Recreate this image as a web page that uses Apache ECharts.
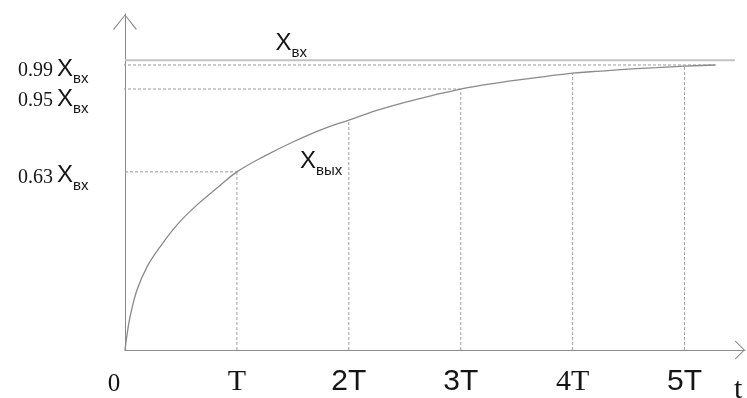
<!DOCTYPE html>
<html><head><meta charset="utf-8">
<script src="https://cdn.jsdelivr.net/npm/echarts@6/dist/echarts.min.js"></script>
<style>html,body{margin:0;padding:0;background:#fff}#c{width:747px;height:398px}</style>
</head><body><div id="c"></div>
<script>
// ---- data (t in units of T, values as fraction of X_вх) ----
const xTickValues = [0, 1, 2, 3, 4, 5];
const xTickLabels = ['0', 'T', '2T', '3T', '4T', '5T'];
const axisEndLabel = 't';
const curveT = [0, 0.018, 0.045, 0.107, 0.197, 0.313, 0.465, 0.643, 0.822, 1.0, 1.25, 1.5, 1.75, 2.0, 2.25, 2.5, 2.75, 3.0, 3.25, 3.5, 3.75, 4.0, 4.25, 4.5, 4.75, 5.0, 5.27];
const curveV = [0, 0.052, 0.114, 0.207, 0.287, 0.356, 0.432, 0.501, 0.559, 0.615, 0.670, 0.718, 0.760, 0.794, 0.827, 0.855, 0.879, 0.901, 0.918, 0.932, 0.944, 0.956, 0.963, 0.970, 0.975, 0.980, 0.984];
const inputLevel = 1.0;
const inputSpanT = [0, 5.45];
const levelNames = ['0.99', '0.95', '0.63'];
const levelValues = [0.984, 0.901, 0.615];
const levelStartT = [-0.107, -0.107, -0.134];
const levelEndT = [5.29, 3.0, 1.0];
const dropT = [1, 2, 3, 4, 5];
const dropV = [0.615, 0.794, 0.901, 0.956, 0.980];
const inputName = ['X', 'вх'];
const outputName = ['X', 'вых'];

// ---- styling ----
const TXT = '#151515';
const serifTicks = new Set(['0', 'T', '4T']);
const SERIF = 'Liberation Serif', SANS = 'Liberation Sans';
const subRich = {
  n: { fontFamily: SERIF, fontSize: 20, lineHeight: 20, padding: [0, 4, 5, 0], color: TXT, verticalAlign: 'bottom' },
  x: { fontFamily: SANS, fontSize: 24, lineHeight: 24, padding: [0, 0, 5, 0], color: TXT, verticalAlign: 'bottom' },
  s: { fontFamily: SANS, fontSize: 15, lineHeight: 15, color: TXT, verticalAlign: 'bottom' }
};
const levelOffsets = [[0, 9], [0, 15], [0, 9]];
const levelDistance = [24, 24, 21];

const chart = echarts.init(document.getElementById('c'), null, { renderer: 'canvas' });

const curveData = curveT.map((t, i) => ({ value: [t, curveV[i]] }));
const tIdx = curveT.indexOf(1.0);
curveData[tIdx].label = {
  show: true, position: [63.5, -17],
  formatter: '{x|' + outputName[0] + '}{s|' + outputName[1] + '}', rich: subRich
};

const series = [];
series.push({
  type: 'line', data: curveData, smooth: 0.4,
  symbol: 'circle', symbolSize: 1, showSymbol: true, itemStyle: { color: 'transparent' },
  lineStyle: { color: '#8a8a8a', width: 1.3 }, clip: false, silent: true, z: 4
});
series.push({
  type: 'line',
  data: [
    { value: [inputSpanT[0], inputLevel], label: { show: true, position: [151, -23],
      formatter: '{x|' + inputName[0] + '}{s|' + inputName[1] + '}', rich: subRich } },
    { value: [inputSpanT[1], inputLevel] }
  ],
  symbol: 'circle', symbolSize: 1, itemStyle: { color: 'transparent' },
  lineStyle: { color: '#c2c2c2', width: 2 }, clip: false, silent: true, z: 2
});
levelValues.forEach((v, i) => {
  series.push({
    type: 'line',
    data: [
      { value: [levelStartT[i], v], label: { show: true, position: 'left', distance: levelDistance[i], offset: levelOffsets[i],
        formatter: '{n|' + levelNames[i] + '}{x|' + inputName[0] + '}{s|' + inputName[1] + '}', rich: subRich } },
      { value: [levelEndT[i], v] }
    ],
    symbol: 'circle', symbolSize: 1, itemStyle: { color: 'transparent' },
    lineStyle: { color: '#9a9a9a', width: 1, type: [3, 2] }, clip: false, silent: true, z: 3
  });
});
dropT.forEach((t, i) => {
  series.push({
    type: 'line', data: [[t, 0], [t, dropV[i]]], symbol: 'none',
    lineStyle: { color: '#a0a0a0', width: 1, type: [3, 2] }, clip: false, silent: true, z: 3
  });
});

const option = {
  animation: false,
  backgroundColor: '#fff',
  grid: { left: 125, top: 14, width: 620, height: 336, containLabel: false, outerBoundsMode: 'none' },
  xAxis: {
    type: 'value', min: 0, max: 5.54, interval: 1,
    axisLine: { show: true, onZero: false, lineStyle: { color: '#8a8a8a', width: 1 },
      symbol: ['none', 'path://M0,12 L12,0 L24,12 L22.8,12.6 L12,1.8 L1.2,12.6 Z'],
      symbolSize: [20, 10], symbolOffset: [0, -5] },
    axisTick: { show: false }, splitLine: { show: false },
    axisLabel: {
      margin: 17,
      formatter: (val) => {
        const i = xTickValues.indexOf(val);
        if (i < 0) return '';
        const lab = xTickLabels[i];
        if (i === 0) return '{z|' + lab + '}';
        return (serifTicks.has(lab) ? '{se|' : '{sa|') + lab + '}';
      },
      rich: {
        se: { fontFamily: SERIF, fontSize: 30, lineHeight: 30, color: TXT },
        sa: { fontFamily: SANS, fontSize: 30, lineHeight: 30, color: TXT },
        z: { fontFamily: SERIF, fontSize: 25, lineHeight: 25, padding: [10, 22, 0, 0], color: TXT }
      }
    },
    name: axisEndLabel, nameLocation: 'end', nameGap: -11,
    nameTextStyle: { fontFamily: SERIF, fontSize: 30, lineHeight: 30, color: TXT, verticalAlign: 'top', align: 'left', padding: [25, 0, 0, 0] }
  },
  yAxis: {
    type: 'value', min: 0, max: 1.16,
    axisLine: { show: true, onZero: false, lineStyle: { color: '#8a8a8a', width: 1 },
      symbol: ['none', 'path://M0,15 L12,0 L24,15 L22.8,15.6 L12,1.6 L1.2,15.6 Z'],
      symbolSize: [24, 16], symbolOffset: [0, -8] },
    axisTick: { show: false }, splitLine: { show: false }, axisLabel: { show: false }
  },
  series: series
};
chart.setOption(option);
</script>
</body></html>
